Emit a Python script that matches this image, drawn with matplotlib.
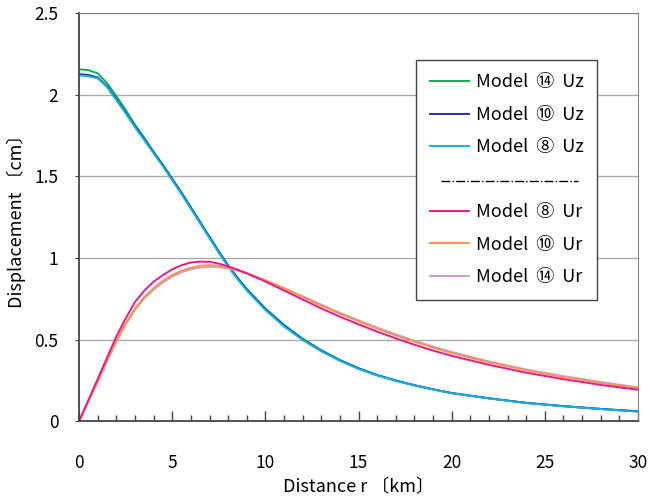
"""Displacement vs distance for three models (Uz and Ur components)."""
import matplotlib
matplotlib.use("Agg")
import matplotlib.pyplot as plt
from matplotlib.lines import Line2D

plt.rcParams["font.family"] = ["Noto Sans CJK JP", "DejaVu Sans"]

r_km = [0, 0.5, 1, 1.5, 2, 2.5, 3, 3.5, 4, 4.5, 5, 5.5, 6, 6.5, 7, 7.5, 8,
        8.5, 9, 10, 11, 12, 13, 14, 15, 16, 17, 18, 19, 20, 22, 24, 26, 28,
        30]

uz_m14 = [2.155, 2.15, 2.13, 2.07, 1.99, 1.905, 1.815, 1.735, 1.65, 1.57,
          1.485, 1.40, 1.31, 1.22, 1.13, 1.04, 0.955, 0.88, 0.81, 0.69,
          0.59, 0.505, 0.435, 0.375, 0.325, 0.283, 0.25, 0.22, 0.195,
          0.172, 0.14, 0.112, 0.092, 0.075, 0.06]
uz_m10 = [2.126, 2.12, 2.105, 2.05, 1.97, 1.89, 1.805, 1.725, 1.645, 1.565,
          1.48, 1.395, 1.305, 1.215, 1.125, 1.035, 0.95, 0.875, 0.805, 0.685,
          0.585, 0.50, 0.43, 0.372, 0.322, 0.281, 0.248, 0.22, 0.195,
          0.172, 0.14, 0.112, 0.092, 0.075, 0.06]
uz_m8 = [2.118, 2.112, 2.10, 2.045, 1.965, 1.885, 1.80, 1.72, 1.64, 1.56,
         1.475, 1.39, 1.30, 1.21, 1.12, 1.03, 0.945, 0.87, 0.80, 0.68,
         0.58, 0.497, 0.428, 0.37, 0.32, 0.28, 0.247, 0.219, 0.194,
         0.171, 0.139, 0.111, 0.091, 0.074, 0.058]

ur_m8 = [0, 0.13, 0.26, 0.39, 0.52, 0.63, 0.73, 0.80, 0.855, 0.895, 0.93,
         0.955, 0.972, 0.977, 0.976, 0.965, 0.948, 0.928, 0.905, 0.855,
         0.80, 0.745, 0.69, 0.64, 0.593, 0.548, 0.507, 0.468, 0.432, 0.40,
         0.345, 0.297, 0.257, 0.222, 0.192]
ur_m10 = [0, 0.125, 0.245, 0.375, 0.495, 0.60, 0.69, 0.76, 0.815, 0.86,
          0.895, 0.922, 0.94, 0.952, 0.956, 0.952, 0.94, 0.925, 0.907,
          0.862, 0.812, 0.76, 0.708, 0.658, 0.611, 0.566, 0.525, 0.486,
          0.45, 0.417, 0.36, 0.311, 0.27, 0.234, 0.202]
ur_m14 = [0, 0.12, 0.24, 0.368, 0.487, 0.592, 0.682, 0.752, 0.806, 0.85,
          0.885, 0.912, 0.93, 0.941, 0.945, 0.943, 0.935, 0.922, 0.906,
          0.864, 0.816, 0.765, 0.714, 0.664, 0.618, 0.573, 0.532, 0.493,
          0.457, 0.424, 0.366, 0.317, 0.276, 0.24, 0.207]

fig, ax = plt.subplots(figsize=(6.49, 4.99), dpi=100)
fig.subplots_adjust(left=0.122, right=0.983, bottom=0.156, top=0.974)

series = [
    (uz_m14, "#00b050", "Model  ⑭  Uz"),
    (uz_m10, "#2e3192", "Model  ⑩  Uz"),
    (uz_m8, "#1aaee8", "Model  ⑧  Uz"),
    (ur_m14, "#c9a0d4", "Model  ⑭  Ur"),
    (ur_m10, "#f7964a", "Model  ⑩  Ur"),
    (ur_m8, "#e8198b", "Model  ⑧  Ur"),
]
lines = {}
for vals, color, label in series:
    lines[label], = ax.plot(r_km, vals, color=color, lw=1.4, label=label)

ax.set_xlim(0, 30)
ax.set_ylim(0, 2.5)
ax.set_xticks(range(0, 31, 5))
ax.set_xticks(range(0, 31, 1), minor=True)
ax.set_yticks([0, 0.5, 1, 1.5, 2, 2.5])
ax.set_yticklabels(["0", "0.5", "1", "1.5", "2", "2.5"])
ax.tick_params(axis="x", which="major", direction="in", length=7,
               pad=24, labelsize=12.5, width=1, color="#444444")
ax.tick_params(axis="x", which="minor", direction="in", length=4,
               width=1, color="#444444")
ax.tick_params(axis="y", direction="out", length=3, pad=12, labelsize=12.5,
               color="#444444")
ax.grid(axis="y", color="#aaaaaa", lw=1)
for side in ["left", "bottom"]:
    ax.spines[side].set_color("#444444")
    ax.spines[side].set_linewidth(1.3)
for side in ["top", "right"]:
    ax.spines[side].set_color("#888888")

ax.set_xlabel("Distance r 〔km〕", fontsize=13, labelpad=4)
ax.set_ylabel("Displacement 〔cm〕", fontsize=13, labelpad=6)

blank = Line2D([], [], color="none")
order = ["Model  ⑭  Uz", "Model  ⑩  Uz", "Model  ⑧  Uz", None,
         "Model  ⑧  Ur", "Model  ⑩  Ur", "Model  ⑭  Ur"]
handles = [lines[k] if k else blank for k in order]
labels = [k if k else " " for k in order]
leg = ax.legend(handles, labels, loc="upper left",
                bbox_to_anchor=(0.603, 0.885), fontsize=13,
                handlelength=2.2, handletextpad=0.35, labelspacing=0.8,
                borderpad=0.75, borderaxespad=0,
                fancybox=False, framealpha=1, edgecolor="#444444")
leg.get_frame().set_linewidth(1)

# dash-dot separator row inside the legend
ax.add_line(Line2D([0.647, 0.893], [0.589, 0.589], transform=ax.transAxes,
                   color="black", lw=1, ls="-.", zorder=10))

fig.savefig("out.png", dpi=100)
